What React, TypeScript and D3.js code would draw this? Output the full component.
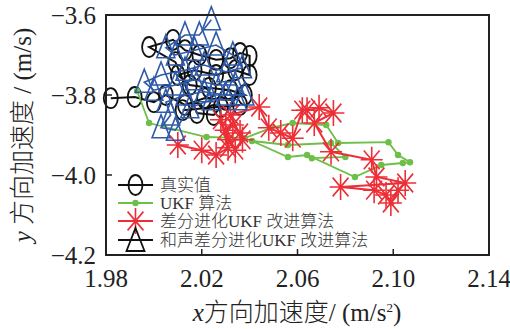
import * as d3 from 'd3';

// 真实值 (black circles)
const trueX = [1.982, 1.992, 2.000, 2.005, 2.013, 2.021, 2.030, 2.038, 2.032, 2.023, 2.015, 2.010, 2.017, 2.026, 2.034, 2.040, 2.040, 2.036, 2.032, 2.026, 2.019, 2.013, 2.008, 1.998, 2.009, 2.018, 2.025, 2.028, 2.036, 2.012];
const trueY = [-3.808, -3.805, -3.818, -3.800, -3.825, -3.808, -3.812, -3.800, -3.788, -3.782, -3.775, -3.750, -3.738, -3.750, -3.738, -3.750, -3.702, -3.695, -3.708, -3.712, -3.700, -3.688, -3.662, -3.680, -3.718, -3.845, -3.850, -3.830, -3.825, -3.838];

// UKF 算法 (green dots)
const ukfX = [1.993, 1.998, 2.022, 2.038, 2.049, 2.058, 2.072, 2.077, 2.098, 2.102, 2.107, 2.104, 2.095, 2.084, 2.064, 2.056, 2.041, 2.056, 2.074, 2.080, 2.066];
const ukfY = [-3.790, -3.870, -3.905, -3.908, -3.882, -3.870, -3.875, -3.920, -3.918, -3.950, -3.968, -3.970, -3.975, -4.005, -3.950, -3.955, -3.915, -3.925, -3.920, -3.955, -3.958];

// 差分进化UKF改进算法 (red asterisks)
const deX = [2.010, 2.020, 2.026, 2.031, 2.028, 2.031, 2.034, 2.030, 2.033, 2.036, 2.037, 2.032, 2.044, 2.048, 2.053, 2.058, 2.062, 2.064, 2.069, 2.075, 2.067, 2.074, 2.091, 2.093, 2.105, 2.078, 2.092, 2.097, 2.099, 2.102];
const deY = [-3.925, -3.938, -3.950, -3.932, -3.862, -3.912, -3.938, -3.888, -3.875, -3.895, -3.912, -3.850, -3.830, -3.882, -3.895, -3.908, -3.838, -3.838, -3.832, -3.845, -3.870, -3.942, -3.962, -4.005, -4.020, -4.030, -4.038, -4.050, -4.070, -4.038];

// 和声差分进化UKF改进算法 (blue triangles)
const hsX = [2.024, 2.019, 2.013, 2.005, 2.009, 2.017, 2.026, 2.033, 2.037, 2.030, 2.021, 2.013, 2.003, 1.996, 2.000, 2.009, 2.017, 2.026, 2.034, 2.038, 2.030, 2.021, 2.013, 2.005, 2.007, 2.003, 2.009, 2.015, 2.024, 2.035];
const hsY = [-3.612, -3.650, -3.650, -3.682, -3.700, -3.688, -3.675, -3.700, -3.732, -3.742, -3.725, -3.738, -3.750, -3.768, -3.788, -3.775, -3.762, -3.775, -3.775, -3.800, -3.800, -3.792, -3.800, -3.818, -3.850, -3.882, -3.888, -3.832, -3.812, -3.812];

const xTicks = [1.98, 2.02, 2.06, 2.10, 2.14];
const yTicks = [-3.6, -3.8, -4.0, -4.2];
const legendLabels = ['真实值', 'UKF 算法', '差分进化UKF 改进算法', '和声差分进化UKF 改进算法'];

const W = 510;
const H = 329;
const BOX = { left: 106, right: 489, top: 15, bottom: 255 };
const FONT = "'Liberation Serif', 'Times New Roman', 'Noto Sans CJK SC', serif";

const BLACK = '#111111';
const GREEN = '#6cbf48';
const RED = '#ec2f37';
const BLUE = '#2f5aa8';

const x = d3.scaleLinear().domain([1.98, 2.14]).range([BOX.left, BOX.right]);
const y = d3.scaleLinear().domain([-3.6, -4.2]).range([BOX.top, BOX.bottom]);

const zip = (xs: number[], ys: number[]) => xs.map((v, i) => [v, ys[i]] as [number, number]);
const line = d3.line<[number, number]>().x((d) => x(d[0])).y((d) => y(d[1]));

function ellipseMark(cx: number, cy: number, color: string, key?: any) {
  return <ellipse key={key} cx={cx} cy={cy} rx={7} ry={10} fill="none" stroke={color} strokeWidth={1.8} />;
}

function triPath(cx: number, cy: number) {
  return `M${cx},${cy - 13}L${cx + 9},${cy + 10}L${cx - 9},${cy + 10}Z`;
}

function starPath(cx: number, cy: number) {
  const rx = 11, ry = 13, k = 0.72;
  return `M${cx - rx},${cy}L${cx + rx},${cy}M${cx},${cy - ry}L${cx},${cy + ry}` +
    `M${cx - rx * k},${cy - ry * k}L${cx + rx * k},${cy + ry * k}M${cx - rx * k},${cy + ry * k}L${cx + rx * k},${cy - ry * k}`;
}

export default function App() {
  const truePts = zip(trueX, trueY);
  const ukfPts = zip(ukfX, ukfY);
  const dePts = zip(deX, deY);
  const hsPts = zip(hsX, hsY);
  const legendY = [185, 203, 221, 240];

  return (
    <svg width={W} height={H} style={{ position: 'absolute', left: 0, top: 0, background: '#fff' }} fontFamily={FONT}>
      {/* true values */}
      <path d={line(truePts) ?? ''} fill="none" stroke={BLACK} strokeWidth={2} />
      {truePts.map((p, i) => ellipseMark(x(p[0]), y(p[1]), BLACK, 't' + i))}

      {/* UKF */}
      <path d={line(ukfPts) ?? ''} fill="none" stroke={GREEN} strokeWidth={1.8} />
      {ukfPts.map((p, i) => (
        <circle key={'u' + i} cx={x(p[0])} cy={y(p[1])} r={3.2} fill={GREEN} />
      ))}

      {/* DE-UKF */}
      <path d={line(dePts) ?? ''} fill="none" stroke={RED} strokeWidth={2} />
      {dePts.map((p, i) => (
        <path key={'d' + i} d={starPath(x(p[0]), y(p[1]))} stroke={RED} strokeWidth={1.6} fill="none" />
      ))}

      {/* HS-DE-UKF */}
      <path d={line(hsPts) ?? ''} fill="none" stroke={BLUE} strokeWidth={1.6} />
      {hsPts.map((p, i) => (
        <path key={'h' + i} d={triPath(x(p[0]), y(p[1]))} stroke={BLUE} strokeWidth={1.6} fill="none" />
      ))}

      {/* frame */}
      <rect x={BOX.left} y={BOX.top} width={BOX.right - BOX.left} height={BOX.bottom - BOX.top} fill="none" stroke="#222" strokeWidth={2} />

      {/* ticks */}
      {xTicks.map((t) => (
        <g key={'xt' + t}>
          <line x1={x(t)} x2={x(t)} y1={BOX.bottom} y2={BOX.bottom - 6} stroke="#222" strokeWidth={1.5} />
          <text x={x(t)} y={287} textAnchor="middle" fontSize={25} fill="#222">{d3.format('.2f')(t)}</text>
        </g>
      ))}
      {yTicks.map((t) => (
        <g key={'yt' + t}>
          <line x1={BOX.left} x2={BOX.left + 6} y1={y(t)} y2={y(t)} stroke="#222" strokeWidth={1.5} />
          <text x={96} y={y(t)} dy="0.35em" textAnchor="end" fontSize={25} fill="#222">{d3.format('.1f')(t)}</text>
        </g>
      ))}

      {/* axis titles */}
      <text x={297} y={321} textAnchor="middle" fontSize={25} fill="#222" fontWeight={300}>
        <tspan fontStyle="italic">x</tspan>方向加速度/ (m/s<tspan dy={-9} fontSize={13}>2</tspan><tspan dy={9}>)</tspan>
      </text>
      <text transform="translate(31,135) rotate(-90)" textAnchor="middle" fontSize={25} fill="#222" fontWeight={300}>
        <tspan fontStyle="italic">y</tspan> 方向加速度 / (m/s)
      </text>

      {/* legend */}
      {legendLabels.map((lab, i) => {
        const ly = legendY[i];
        const col = [BLACK, GREEN, RED, BLACK][i];
        return (
          <g key={'lg' + i}>
            <line x1={118} x2={153} y1={ly} y2={ly} stroke={col} strokeWidth={2} />
            {i === 0 && ellipseMark(135.5, ly, BLACK)}
            {i === 1 && <circle cx={135.5} cy={ly} r={3.2} fill={GREEN} />}
            {i === 2 && <path d={starPath(135.5, ly)} stroke={RED} strokeWidth={1.6} fill="none" />}
            {i === 3 && <path d={triPath(135.5, ly + 1)} stroke={BLACK} strokeWidth={1.8} fill="none" />}
            <text x={160} y={ly} dy="0.36em" fontSize={17} fill="#333" fontWeight={300}>{lab}</text>
          </g>
        );
      })}
    </svg>
  );
}
